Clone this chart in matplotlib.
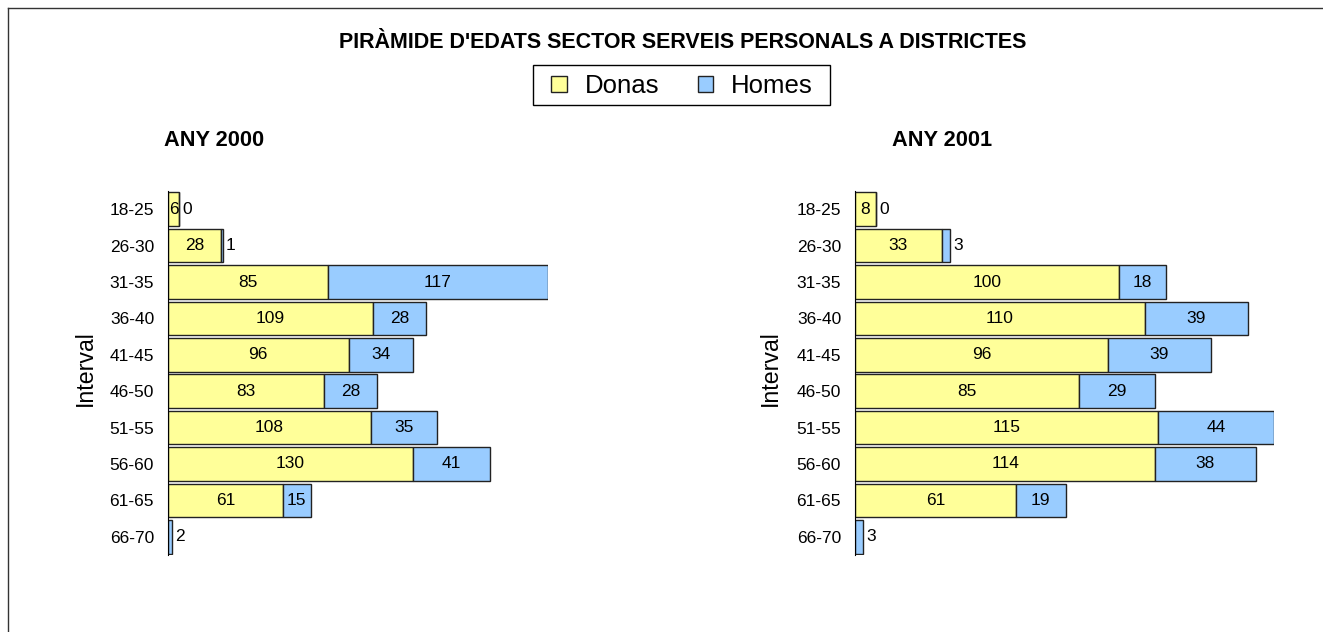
import numpy as np
import matplotlib.pyplot as plt
from matplotlib.lines import Line2D
from matplotlib.patches import Patch, Rectangle

# dades de la piramide
intervals = ["18-25", "26-30", "31-35", "36-40", "41-45",
             "46-50", "51-55", "56-60", "61-65", "66-70"]
donas_2000 = [6, 28, 85, 109, 96, 83, 108, 130, 61, 0]
homes_2000 = [0, 1, 117, 28, 34, 28, 35, 41, 15, 2]
donas_2001 = [8, 33, 100, 110, 96, 85, 115, 114, 61, 0]
homes_2001 = [0, 3, 18, 39, 39, 29, 44, 38, 19, 3]

plt.rcParams['font.family'] = ['Liberation Sans', 'DejaVu Sans']

W, H = 1323, 632
col_donas = "#FFFF99"
col_homes = "#99CCFF"

fig = plt.figure(figsize=(W / 100, H / 100), dpi=100)

# marc exterior (retallat a dreta i a baix)
fig.add_artist(Line2D([8 / W, 1], [1 - 8 / H, 1 - 8 / H], color="#333333", lw=1))
fig.add_artist(Line2D([8 / W, 8 / W], [0, 1 - 8 / H], color="#333333", lw=1))


def Piramide(ax, donas, homes):
    y = np.arange(len(intervals))
    d = np.array(donas)
    h = np.array(homes)
    ax.barh(y, d, 0.92, color=col_donas, edgecolor="#222222", lw=1)
    ax.barh(y, h, 0.92, left=d, color=col_homes, edgecolor="#222222", lw=1)
    xmax = ax.get_xlim()[1]
    for i in range(len(intervals)):
        if d[i] > 0:
            ax.text(d[i] / 2, y[i], str(d[i]), ha="center", va="center", fontsize=12.5)
        if h[i] < 5:
            ax.text(d[i] + h[i] + xmax * 0.008, y[i], str(h[i]),
                    ha="left", va="center", fontsize=12.5)
        else:
            ax.text(d[i] + h[i] / 2, y[i], str(h[i]), ha="center", va="center", fontsize=12.5)
    ax.set_yticks(y)
    ax.set_yticklabels(intervals, fontsize=12.5)
    ax.set_ylim(9.5, -0.5)
    ax.tick_params(axis="y", length=0, pad=10)
    ax.set_xticks([])
    for s in ["top", "right", "bottom"]:
        ax.spines[s].set_visible(False)
    ax.spines["left"].set_color("black")
    ax.patch.set_alpha(0)


ax1 = fig.add_axes([168 / W, 77 / H, 380 / W, 364 / H])
ax1.set_xlim(0, 202)
Piramide(ax1, donas_2000, homes_2000)

ax2 = fig.add_axes([855 / W, 77 / H, 419 / W, 364 / H])
ax2.set_xlim(0, 159)
Piramide(ax2, donas_2001, homes_2001)

# textos
fig.text(683 / W, 1 - 42 / H, "PIRÀMIDE D'EDATS SECTOR SERVEIS PERSONALS A DISTRICTES",
         ha="center", va="center", fontsize=15.5, fontweight="bold")
fig.text(214 / W, 1 - 141 / H, "ANY 2000", ha="center", va="center",
         fontsize=15.7, fontweight="bold")
fig.text(942 / W, 1 - 141 / H, "ANY 2001", ha="center", va="center",
         fontsize=15.7, fontweight="bold")
fig.text(85 / W, 1 - 368 / H, "Interval", ha="center", va="center",
         rotation=90, fontsize=16.7)
fig.text(770 / W, 1 - 368 / H, "Interval", ha="center", va="center",
         rotation=90, fontsize=16.7)

# llegenda
fig.add_artist(Rectangle((533 / W, 1 - 105 / H), 297 / W, 40 / H, transform=fig.transFigure,
                         facecolor="white", edgecolor="black", lw=1))
handles = [Patch(facecolor=col_donas, edgecolor="#222222", lw=1, label="Donas"),
           Patch(facecolor=col_homes, edgecolor="#222222", lw=1, label="Homes")]
leg = fig.legend(handles=handles, loc="center", bbox_to_anchor=(682 / W, 1 - 86 / H),
                 ncol=2, fontsize=18.5, frameon=False,
                 handlelength=0.6, handleheight=0.6, handletextpad=0.7,
                 columnspacing=1.5, borderpad=0.2)

plt.savefig("out.png", dpi=100)
